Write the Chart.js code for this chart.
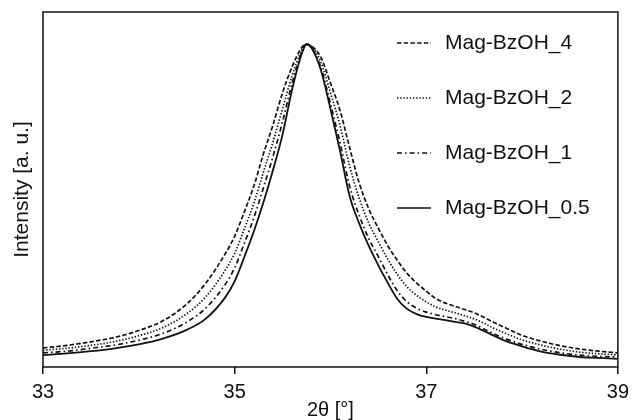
<!DOCTYPE html>
<html>
<head>
<meta charset="utf-8">
<script src="https://cdn.jsdelivr.net/npm/chart.js@4"></script>
<style>
  html, body { margin: 0; padding: 0; background: #fff; }
  #wrap { width: 635px; height: 420px; }
</style>
</head>
<body>
<div id="wrap"><canvas id="chart" width="635" height="420"></canvas></div>
<script>
const twoTheta = [33.0, 33.25, 33.5, 33.75, 34.0, 34.25, 34.5, 34.7, 34.9, 35.0, 35.1, 35.2, 35.3, 35.4, 35.5, 35.6, 35.7, 35.75,
  35.8, 35.9, 36.0, 36.1, 36.2, 36.3, 36.4, 36.5, 36.6, 36.7, 36.8, 36.9, 37.0, 37.1, 37.2, 37.3, 37.4, 37.5, 37.6, 37.7, 37.8,
  38.0, 38.2, 38.4, 38.6, 38.8, 39.0];

const bzoh4 = [5.9, 6.7, 7.8, 9.2, 11.3, 14.3, 19.5, 26, 35, 40.5, 48, 56, 66, 75, 85, 93, 99, 100,
  99.5, 96, 88, 79.5, 68, 57, 49, 43, 37.5, 33, 29, 26, 23.5, 21.2, 19.8, 18.8, 17.8, 16.8, 15.4, 13.9, 12.5,
  9.8, 8.0, 6.6, 5.6, 4.9, 4.4];
const bzoh2 = [5.2, 5.8, 6.7, 7.9, 9.7, 12.2, 16.5, 21.8, 29.9, 35.2, 42.7, 50.7, 60.3, 69.7, 80, 90.3, 98.2, 100,
  99.3, 94.5, 85, 74.8, 62.3, 52.3, 44.6, 38.8, 33.3, 28.6, 24.8, 22.2, 20.2, 18.6, 17.6, 16.8, 15.9, 14.9, 13.6, 12.1, 10.8,
  8.4, 6.8, 5.5, 4.6, 4.1, 3.7];
const bzoh1 = [4.4, 4.9, 5.8, 6.8, 8.3, 10.4, 13.9, 18.3, 25.5, 30.7, 38.2, 46.2, 55.5, 65.2, 76, 88, 97.6, 100,
  99.1, 92.8, 81.6, 69.5, 56, 47, 39.8, 34.2, 28.5, 23.5, 20.2, 18.2, 17.0, 16.2, 15.6, 15.0, 14.2, 13.2, 11.8, 10.4, 9.1,
  7.0, 5.5, 4.4, 3.7, 3.3, 3.1];
const bzoh05 = [3.7, 4.2, 4.9, 5.8, 7.0, 8.8, 11.5, 15.0, 21.5, 26.5, 34, 42, 51, 61, 72, 86, 97, 100,
  99, 92, 80, 67, 53, 44.5, 37.5, 31.5, 26, 21, 18, 16.4, 15.5, 15.0, 14.5, 14.0, 13.5, 12.5, 11.2, 9.8, 8.4,
  6.4, 4.8, 3.8, 3.1, 2.8, 2.5];

const seriesLabels = ['Mag-BzOH_4', 'Mag-BzOH_2', 'Mag-BzOH_1', 'Mag-BzOH_0.5'];
const seriesValues = [bzoh4, bzoh2, bzoh1, bzoh05];
const seriesDash = [[4.5, 2.2], [1.4, 1.8], [5, 3, 1.6, 3], []];
const xTicks = [33, 35, 37, 39];

const ink = '#111111';
const fontFamily = "'Liberation Sans', Arial, sans-serif";

Chart.defaults.font.family = fontFamily;
Chart.defaults.color = ink;

// frame round the plot and the in-plot legend
const framePlugin = {
    id: 'frame',
    afterDraw(chart) {
        const ctx = chart.ctx;
        const a = chart.chartArea;
        ctx.save();
        ctx.strokeStyle = ink;
        ctx.lineWidth = 1.5;
        ctx.setLineDash([]);
        ctx.strokeRect(a.left, a.top, a.right - a.left, a.bottom - a.top);

        ctx.font = '21px ' + fontFamily;
        ctx.fillStyle = ink;
        ctx.textBaseline = 'middle';
        chart.data.datasets.forEach(function(ds, i) {
            const y = 43 + i * 55;
            ctx.beginPath();
            ctx.lineWidth = 1.6;
            ctx.setLineDash(ds.borderDash || []);
            ctx.moveTo(397, y);
            ctx.lineTo(431, y);
            ctx.stroke();
            ctx.setLineDash([]);
            ctx.fillText(ds.label, 445, y);
        });
        ctx.restore();
    }
};

const datasets = seriesLabels.map(function(label, i) {
    return {
        label: label,
        data: twoTheta.map(function(x, j) { return { x: x, y: seriesValues[i][j] }; }),
        borderColor: ink,
        borderWidth: i === 3 ? 1.8 : 1.7,
        borderDash: seriesDash[i],
        pointRadius: 0,
        cubicInterpolationMode: 'monotone',
        fill: false
    };
});

new Chart(document.getElementById('chart'), {
    type: 'line',
    data: { datasets: datasets },
    options: {
        responsive: false,
        animation: false,
        layout: { padding: { top: 12, right: 13, bottom: 0, left: 0 } },
        plugins: {
            legend: { display: false },
            tooltip: { enabled: false }
        },
        scales: {
            x: {
                type: 'linear',
                min: 33,
                max: 39,
                afterBuildTicks: function(scale) {
                    scale.ticks = xTicks.map(function(v) { return { value: v }; });
                },
                afterFit: function(scale) { scale.height = 53; },
                grid: {
                    display: true,
                    drawOnChartArea: false,
                    tickLength: 7,
                    tickColor: ink,
                    lineWidth: 1.5
                },
                border: { display: false },
                ticks: {
                    font: { size: 20 },
                    color: ink,
                    padding: 6,
                    maxRotation: 0
                },
                title: {
                    display: true,
                    text: '2θ [°]',
                    font: { size: 20, lineHeight: 1 },
                    color: ink,
                    padding: { top: 0, bottom: 0 }
                }
            },
            y: {
                min: 0,
                max: 110,
                afterFit: function(scale) { scale.width = 43; },
                grid: { display: false },
                border: { display: false },
                ticks: { display: false },
                title: {
                    display: true,
                    text: 'Intensity [a. u.]',
                    font: { size: 21, lineHeight: 1 },
                    color: ink,
                    padding: { top: 12, bottom: 0 }
                }
            }
        }
    },
    plugins: [framePlugin]
});
</script>
</body>
</html>
